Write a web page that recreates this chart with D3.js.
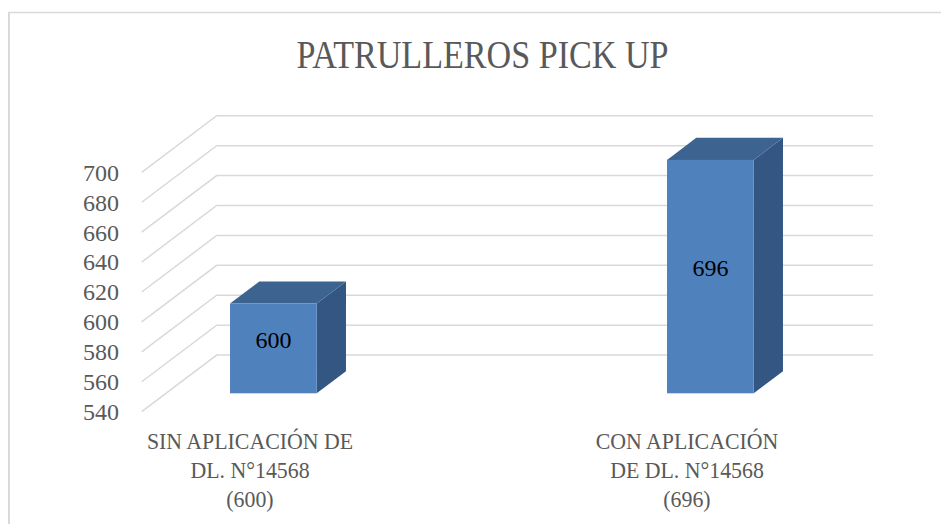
<!DOCTYPE html>
<html><head><meta charset="utf-8">
<script src="https://cdn.jsdelivr.net/npm/d3@7"></script>
<style>html,body{margin:0;padding:0;background:#fff;}svg{display:block;}</style>
</head><body>
<svg id="chart" width="941" height="524"></svg>
<script>
const title = "PATRULLEROS PICK UP";
const categories = ["SIN", "CON"];
const categoryLabels = [
  ["SIN APLICACIÓN DE", "DL. N°14568", "(600)"],
  ["CON APLICACIÓN", "DE DL. N°14568", "(696)"]
];
const values = [600, 696];
const yTicks = [540, 560, 580, 600, 620, 640, 660, 680, 700];

const svg = d3.select("#chart");
const W = 941, H = 524;
const font = "'Liberation Serif', 'Times New Roman', serif";
const gray = "#595959";

// chart frame (top + left)
svg.append("line").attr("x1", 8).attr("x2", W).attr("y1", 12.5).attr("y2", 12.5)
  .attr("stroke", "#d9d9d9").attr("stroke-width", 1.5);
svg.append("line").attr("x1", 9).attr("x2", 9).attr("y1", 12).attr("y2", H)
  .attr("stroke", "#d9d9d9").attr("stroke-width", 2);

// 3D projection: depth vector
const DX = 75, DY = -56.6;
const frontLeft = 141.7, backRight = 873;
const y = d3.scaleLinear().domain([540, 700]).range([411.7, 172.3]);
const x = d3.scalePoint().domain(categories).range([249, 686]);
const d0 = 0.325, d1 = 0.715, barW = 86.7;

// gridlines: diagonal side wall + back wall
const grid = svg.append("g").attr("stroke", "#d9d9d9").attr("stroke-width", 1.5).attr("fill", "none");
yTicks.forEach(t => {
  const yf = y(t);
  grid.append("path").attr("d",
    `M${frontLeft},${yf} L${frontLeft + DX},${yf + DY} L${backRight},${yf + DY}`);
});

// y axis tick labels
svg.append("g").selectAll("text").data(yTicks).join("text")
  .attr("x", 119).attr("y", d => y(d)).attr("dy", "0.35em")
  .attr("text-anchor", "end").attr("font-family", font).attr("font-size", 24)
  .attr("fill", gray).text(d => d);

// bars
const bars = svg.append("g");
values.forEach((v, i) => {
  const cx = x(categories[i]);
  const xl = cx + DX * d0 - barW / 2, xr = xl + barW;
  const yb = y(540) + DY * d0, yt = y(v) + DY * d0;
  const ddx = DX * (d1 - d0), ddy = DY * (d1 - d0);
  // side
  bars.append("path").attr("d",
    `M${xr},${yt} L${xr + ddx},${yt + ddy} L${xr + ddx},${yb + ddy} L${xr},${yb} Z`)
    .attr("fill", "#345683");
  // top
  bars.append("path").attr("d",
    `M${xl},${yt} L${xl + ddx},${yt + ddy} L${xr + ddx},${yt + ddy} L${xr},${yt} Z`)
    .attr("fill", "#3d6391");
  // front
  bars.append("rect").attr("x", xl).attr("y", yt).attr("width", barW).attr("height", yb - yt)
    .attr("fill", "#4f81bd");
  // value label
  const ly = y((540 + v) / 2) + DY * (d0 + d1) / 2 + 2;
  bars.append("text").attr("x", (xl + xr) / 2).attr("y", ly).attr("dy", "0.35em")
    .attr("text-anchor", "middle").attr("font-family", font).attr("font-size", 24)
    .attr("fill", "#000").text(v);
});

// category labels
categoryLabels.forEach((lines, i) => {
  const cx = x(categories[i]) + 1;
  const g = svg.append("g").attr("transform", `translate(${cx},0) scale(0.91,1)`);
  lines.forEach((ln, j) => {
    g.append("text").attr("x", 0).attr("y", 449.3 + j * 29)
      .attr("text-anchor", "middle").attr("font-family", font).attr("font-size", 24)
      .attr("fill", gray).text(ln);
  });
});

// title
svg.append("text").attr("x", 482.5).attr("y", 68.3)
  .attr("text-anchor", "middle").attr("font-family", font).attr("font-size", 40)
  .attr("textLength", 372).attr("lengthAdjust", "spacingAndGlyphs")
  .attr("fill", gray).text(title);
</script>
</body></html>
